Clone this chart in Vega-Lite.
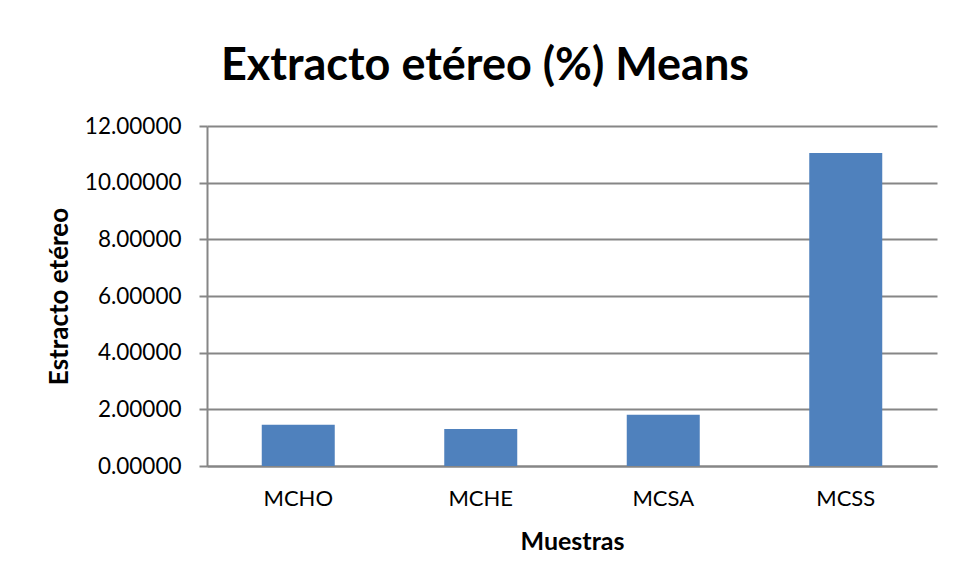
{
  "$schema": "https://vega.github.io/schema/vega-lite/v6.json",
  "width": 730,
  "height": 340,
  "autosize": {"type": "none"},
  "padding": {"left": 207, "top": 126, "right": 18, "bottom": 117},
  "background": "white",
  "title": {
    "text": "Extracto etéreo (%) Means",
    "font": "Lato",
    "fontSize": 45,
    "fontWeight": "bold",
    "color": "#000000",
    "anchor": "middle",
    "dx": -87,
    "offset": 26
  },
  "data": {
    "values": [
      {"muestra": "MCHO", "valor": 1.46},
      {"muestra": "MCHE", "valor": 1.31},
      {"muestra": "MCSA", "valor": 1.81},
      {"muestra": "MCSS", "valor": 11.05}
    ]
  },
  "mark": {"type": "bar", "color": "#4F81BD"},
  "encoding": {
    "x": {
      "field": "muestra",
      "type": "nominal",
      "sort": null,
      "scale": {"paddingInner": 0.6, "paddingOuter": 0.3},
      "axis": {
        "title": "Muestras",
        "titleFont": "Lato",
        "titleFontSize": 25,
        "titleFontWeight": "bold",
        "titleColor": "#000000",
        "titlePadding": 20,
        "labelFont": "Lato",
        "labelFontSize": 22,
        "labelColor": "#000000",
        "labelAngle": 0,
        "labelPadding": 22,
        "ticks": false,
        "domain": true,
        "domainColor": "#868686",
        "domainWidth": 2,
        "grid": false
      }
    },
    "y": {
      "field": "valor",
      "type": "quantitative",
      "scale": {"domain": [0, 12], "nice": false},
      "axis": {
        "title": "Estracto etéreo",
        "titleFont": "Lato",
        "titleFontSize": 26,
        "titleFontWeight": "bold",
        "titleColor": "#000000",
        "titlePadding": 12,
        "values": [0, 2, 4, 6, 8, 10, 12],
        "format": ".5f",
        "labelFont": "Lato",
        "labelFontSize": 22.5,
        "labelColor": "#000000",
        "labelPadding": 18,
        "ticks": true,
        "tickSize": 8,
        "tickColor": "#868686",
        "tickWidth": 2,
        "domain": true,
        "domainColor": "#868686",
        "domainWidth": 2,
        "grid": true,
        "gridColor": "#868686",
        "gridWidth": 2
      }
    }
  },
  "config": {
    "view": {"stroke": null}
  }
}
